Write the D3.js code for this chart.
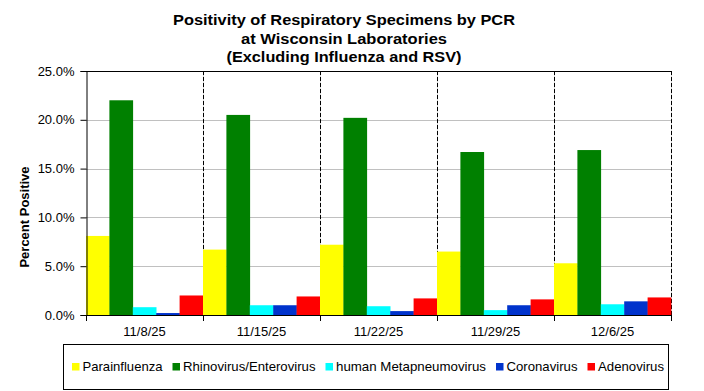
<!DOCTYPE html>
<html>
<head>
<meta charset="utf-8">
<script src="https://cdn.jsdelivr.net/npm/d3@7"></script>
<style>
  html, body { margin: 0; padding: 0; background: #fff; }
  svg { display: block; }
  text { font-family: "Liberation Sans", Arial, sans-serif; fill: #000; }
</style>
</head>
<body>
<svg id="chart" width="704" height="391"></svg>
<script>
// ---- data ----
const categories = ["11/8/25", "11/15/25", "11/22/25", "11/29/25", "12/6/25"];
const seriesNames = ["Parainfluenza", "Rhinovirus/Enterovirus", "human Metapneumovirus", "Coronavirus", "Adenovirus"];
const parainfluenza = [8.1, 6.7, 7.2, 6.5, 5.3];
const rhinovirus = [22.0, 20.5, 20.2, 16.7, 16.9];
const metapneumovirus = [0.8, 1.0, 0.9, 0.5, 1.1];
const coronavirus = [0.2, 1.0, 0.4, 1.0, 1.4];
const adenovirus = [2.0, 1.9, 1.7, 1.6, 1.8];
const yTicks = [0, 5, 10, 15, 20, 25];
const titleLines = ["Positivity of Respiratory Specimens by PCR", "at Wisconsin Laboratories", "(Excluding Influenza and RSV)"];
const yLabel = "Percent Positive";

// ---- styles ----
const colors = ["#FFFF00", "#008000", "#00FFFF", "#0033CC", "#FF0000"];
const seriesValues = [parainfluenza, rhinovirus, metapneumovirus, coronavirus, adenovirus];

const svg = d3.select("#chart");
const m = { left: 86, right: 671, top: 71, bottom: 315 };

const x = d3.scaleBand().domain(categories).range([m.left, m.right]).paddingInner(0).paddingOuter(0);
const xs = d3.scaleBand().domain(seriesNames).range([0, x.bandwidth()]).padding(0);
const y = d3.scaleLinear().domain([0, 25]).range([m.bottom, m.top]);

// horizontal gridlines
svg.append("g").selectAll("line").data(yTicks.filter(d => d > 0 && d < 25)).join("line")
  .attr("x1", m.left).attr("x2", m.right)
  .attr("y1", d => Math.round(y(d)) + 0.5).attr("y2", d => Math.round(y(d)) + 0.5)
  .attr("stroke", "#c0c0c0").attr("stroke-width", 1);

// vertical dashed separators
const seps = categories.map(c => Math.round(x(c) + x.bandwidth()) + 0.5);
const sepG = svg.append("g");
sepG.selectAll("line.bg").data(seps).join("line").attr("class", "bg")
  .attr("x1", d => d).attr("x2", d => d).attr("y1", m.top).attr("y2", m.bottom)
  .attr("stroke", "#d8d8d8").attr("stroke-width", 1);
sepG.selectAll("line.fg").data(seps).join("line").attr("class", "fg")
  .attr("x1", d => d).attr("x2", d => d).attr("y1", m.top).attr("y2", m.bottom)
  .attr("stroke", "#000").attr("stroke-width", 1).attr("stroke-dasharray", "4,2");

// bars
const rows = [];
categories.forEach((c, i) => seriesNames.forEach((s, j) => rows.push({ c, s, j, v: seriesValues[j][i] })));
svg.append("g").selectAll("rect").data(rows).join("rect")
  .attr("x", d => x(d.c) + xs(d.s))
  .attr("width", xs.bandwidth() + 0.3)
  .attr("y", d => y(d.v))
  .attr("height", d => y(0) - y(d.v))
  .attr("fill", d => colors[d.j]);

// top border
svg.append("line").attr("x1", m.left).attr("x2", m.right + 1)
  .attr("y1", m.top + 0.5).attr("y2", m.top + 0.5).attr("stroke", "#000");

// y axis
const yAxis = svg.append("g").attr("transform", `translate(${m.left + 0.5},0)`)
  .call(d3.axisLeft(y).tickValues(yTicks).tickFormat(d => d3.format(".1f")(d) + "%").tickSize(6).tickPadding(6));
yAxis.select(".domain").attr("stroke", "#000");
yAxis.selectAll(".tick line").attr("stroke", "#000");
yAxis.selectAll("text").attr("font-size", 13).attr("font-family", '"Liberation Sans", Arial, sans-serif');

// x axis
const xAxis = svg.append("g").attr("transform", `translate(0,${m.bottom + 0.5})`)
  .call(d3.axisBottom(x).tickSize(0).tickPadding(11));
xAxis.select(".domain").remove();
svg.append("line").attr("x1", m.left).attr("x2", m.right + 1)
  .attr("y1", m.bottom + 0.5).attr("y2", m.bottom + 0.5).attr("stroke", "#000");
xAxis.selectAll("text").attr("font-size", 13).attr("font-family", '"Liberation Sans", Arial, sans-serif');
svg.append("g").selectAll("line").data([m.left + 0.5, ...seps]).join("line")
  .attr("x1", d => d).attr("x2", d => d).attr("y1", m.bottom).attr("y2", m.bottom + 6)
  .attr("stroke", "#000");

// title
const titleBaselines = [25, 44, 62];
const titleWidths = [342, 206, 235];
svg.append("g").selectAll("text").data(titleLines).join("text")
  .attr("x", 344).attr("y", (d, i) => titleBaselines[i])
  .attr("text-anchor", "middle").attr("font-size", 14.5).attr("font-weight", "bold")
  .attr("textLength", (d, i) => titleWidths[i]).attr("lengthAdjust", "spacingAndGlyphs")
  .text(d => d);

// y label
svg.append("text").attr("transform", "translate(29,217) rotate(-90)")
  .attr("text-anchor", "middle").attr("font-size", 13).attr("font-weight", "bold")
  .text(yLabel);

// legend
svg.append("rect").attr("x", 63.5).attr("y", 344.5).attr("width", 605).attr("height", 45)
  .attr("fill", "#fff").attr("stroke", "#000");
const legendWidths = [80, 132.5, 150, 71, 66];
const lg = svg.append("g");
let lx = 72;
seriesNames.forEach((s, i) => {
  lg.append("rect").attr("x", lx).attr("y", 363).attr("width", 7.5).attr("height", 7.5).attr("fill", colors[i]);
  lg.append("text").attr("x", lx + 10.5).attr("y", 371).attr("font-size", 13)
    .attr("textLength", legendWidths[i]).attr("lengthAdjust", "spacingAndGlyphs").text(s);
  lx += 10.5 + legendWidths[i] + 10;
});
</script>
</body>
</html>
